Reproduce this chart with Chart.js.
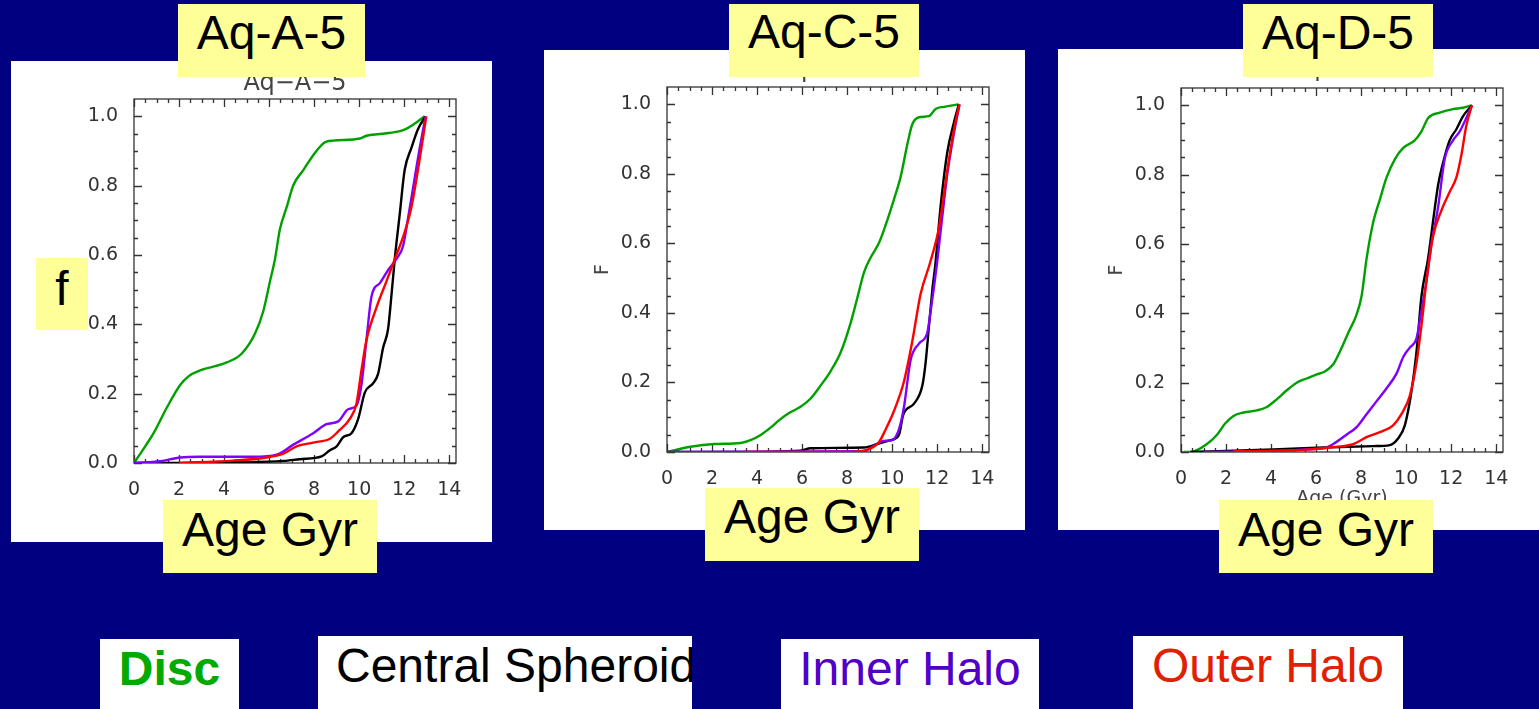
<!DOCTYPE html>
<html>
<head>
<meta charset="utf-8">
<script src="https://cdn.jsdelivr.net/npm/chart.js@4.4.1/dist/chart.umd.min.js"></script>
<style>
  html, body { margin: 0; padding: 0; background: #000080; }
  #stage { position: relative; width: 1539px; height: 709px; overflow: hidden; background: #000080; }
  canvas.panel { position: absolute; background: #ffffff; }
  .tag { position: absolute; background: #ffff99; color: #000; font-family: "Liberation Sans", Arial, sans-serif;
         font-size: 48px; line-height: 48px; text-align: center; box-sizing: border-box; white-space: nowrap; }
  .key { position: absolute; background: #ffffff; font-family: "Liberation Sans", Arial, sans-serif;
         font-size: 48px; line-height: 48px; text-align: center; box-sizing: border-box; white-space: nowrap; overflow: hidden; }
</style>
</head>
<body>
<div id="stage">
  <canvas id="chA" class="panel" width="481" height="481" style="left:11px;top:61px"></canvas>
  <canvas id="chC" class="panel" width="481" height="480" style="left:544px;top:50px"></canvas>
  <canvas id="chD" class="panel" width="481" height="481" style="left:1058px;top:49px"></canvas>

  <div class="tag" style="left:178px;top:4px;width:187px;height:73px;padding-top:5px">Aq-A-5</div>
  <div class="tag" style="left:729px;top:4px;width:190px;height:73px;padding-top:4px">Aq-C-5</div>
  <div class="tag" style="left:1243px;top:4px;width:190px;height:73px;padding-top:5px">Aq-D-5</div>

  <div class="tag" style="left:36px;top:258px;width:52px;height:72px;padding-top:7px">f</div>

  <div class="tag" style="left:163px;top:500px;width:214px;height:73px;padding-top:6px">Age Gyr</div>
  <div class="tag" style="left:705px;top:488px;width:214px;height:73px;padding-top:5px">Age Gyr</div>
  <div class="tag" style="left:1219px;top:500px;width:214px;height:73px;padding-top:6px">Age Gyr</div>

  <div class="key" style="left:100px;top:639px;width:139px;height:70px;padding-top:6px;color:#00aa00;font-weight:bold">Disc</div>
  <div class="key" style="left:318px;top:636px;width:374px;height:73px;padding-top:6px;padding-left:18px;text-align:left;color:#000">Central Spheroid</div>
  <div class="key" style="left:781px;top:639px;width:258px;height:70px;padding-top:6px;color:#5000c8">Inner Halo</div>
  <div class="key" style="left:1133px;top:636px;width:270px;height:73px;padding-top:6px;color:#e02000">Outer Halo</div>
</div>

<script>
// cumulative fraction f of stars formed vs. age (Gyr)
var aqA_disc  = [[0,0],[0.87,0.086],[1.46,0.16],[2.05,0.225],[2.42,0.25],[2.94,0.267],[3.53,0.278],[4.12,0.29],[4.79,0.316],[5.38,0.374],[5.75,0.44],[6.04,0.524],[6.26,0.588],[6.48,0.674],[6.78,0.738],[7.08,0.802],[7.52,0.845],[7.96,0.888],[8.48,0.925],[8.85,0.93],[10.03,0.936],[10.32,0.944],[10.92,0.949],[11.95,0.96],[12.47,0.979],[12.91,1.0]];
var aqA_cs    = [[0,0],[1.46,0],[4.4,0.002],[6.63,0.006],[7.37,0.011],[8.33,0.019],[8.7,0.037],[9.0,0.048],[9.3,0.075],[9.66,0.086],[9.96,0.128],[10.25,0.203],[10.62,0.23],[10.84,0.257],[11.06,0.332],[11.28,0.385],[11.43,0.481],[11.58,0.588],[11.8,0.717],[12.02,0.845],[12.32,0.909],[12.61,0.963],[12.95,1.0]];
var aqA_inner = [[0,0],[1.17,0.005],[2.05,0.016],[2.94,0.018],[5.3,0.018],[6.34,0.024],[7.08,0.053],[7.96,0.086],[8.55,0.112],[9.07,0.12],[9.51,0.155],[9.88,0.166],[10.1,0.225],[10.32,0.353],[10.55,0.481],[10.92,0.519],[11.28,0.556],[11.65,0.588],[11.95,0.626],[12.17,0.706],[12.47,0.824],[12.69,0.909],[12.95,1.0]];
var aqA_outer = [[2.0,0],[4.4,0.007],[5.9,0.016],[6.63,0.027],[7.22,0.048],[7.96,0.059],[8.7,0.07],[9.07,0.091],[9.59,0.128],[9.88,0.171],[10.1,0.267],[10.32,0.353],[10.77,0.449],[11.21,0.524],[11.58,0.588],[11.95,0.652],[12.32,0.738],[12.61,0.845],[12.98,1.0]];

var aqC_disc  = [[0,0],[1.04,0.015],[2.09,0.023],[3.27,0.026],[3.71,0.034],[4.16,0.049],[4.6,0.07],[4.97,0.091],[5.42,0.112],[5.93,0.13],[6.38,0.154],[6.82,0.191],[7.27,0.233],[7.71,0.286],[8.15,0.37],[8.45,0.443],[8.75,0.517],[9.04,0.559],[9.41,0.601],[9.71,0.653],[10.08,0.727],[10.37,0.79],[10.67,0.884],[10.89,0.942],[11.19,0.963],[11.63,0.966],[11.93,0.987],[12.3,0.993],[12.96,1.0]];
var aqC_cs    = [[0,0],[2.8,0],[5.93,0.004],[6.38,0.011],[8.75,0.013],[9.34,0.023],[9.93,0.034],[10.3,0.049],[10.49,0.107],[10.97,0.139],[11.34,0.191],[11.48,0.254],[11.63,0.359],[11.78,0.464],[11.93,0.548],[12.15,0.706],[12.45,0.863],[12.74,0.947],[12.96,1.0]];
var aqC_inner = [[0,0],[8.75,0.002],[9.19,0.018],[9.63,0.032],[10.0,0.034],[10.3,0.065],[10.52,0.128],[10.82,0.265],[11.19,0.312],[11.56,0.343],[11.7,0.401],[12.0,0.548],[12.22,0.674],[12.45,0.8],[12.74,0.916],[12.99,1.0]];
var aqC_outer = [[3.4,0],[8.0,0],[8.9,0.007],[9.41,0.028],[9.71,0.065],[10.08,0.118],[10.52,0.202],[10.89,0.317],[11.26,0.454],[11.7,0.548],[12.07,0.643],[12.45,0.811],[12.74,0.926],[12.99,1.0]];

var aqD_disc  = [[0.12,0],[0.56,0.002],[1.15,0.023],[1.6,0.05],[1.96,0.082],[2.33,0.104],[2.78,0.114],[3.37,0.12],[3.81,0.13],[4.25,0.152],[4.7,0.178],[5.14,0.2],[5.58,0.212],[6.03,0.224],[6.39,0.232],[6.76,0.253],[7.06,0.29],[7.43,0.344],[7.8,0.397],[8.02,0.45],[8.24,0.557],[8.54,0.664],[8.83,0.728],[9.13,0.792],[9.5,0.845],[9.87,0.877],[10.38,0.899],[10.68,0.925],[10.97,0.963],[11.49,0.979],[12.08,0.989],[12.52,0.993],[12.92,1.0]];
var aqD_cs    = [[0.41,0],[4.1,0.007],[6.32,0.013],[8.54,0.017],[9.27,0.02],[9.64,0.039],[9.94,0.077],[10.23,0.173],[10.46,0.29],[10.68,0.45],[10.97,0.557],[11.19,0.664],[11.42,0.771],[11.64,0.835],[11.93,0.899],[12.23,0.931],[12.52,0.968],[12.92,1.0]];
var aqD_inner = [[1.0,0],[6.32,0.011],[6.76,0.023],[7.35,0.05],[7.8,0.072],[8.24,0.109],[8.68,0.146],[9.13,0.184],[9.57,0.226],[9.87,0.274],[10.16,0.301],[10.46,0.328],[10.68,0.408],[10.9,0.493],[11.12,0.6],[11.42,0.707],[11.71,0.845],[12.08,0.899],[12.38,0.925],[12.92,1.0]];
var aqD_outer = [[2.33,0.002],[5.58,0.007],[6.62,0.013],[7.65,0.023],[8.31,0.045],[8.98,0.061],[9.42,0.077],[9.79,0.109],[10.16,0.162],[10.46,0.258],[10.68,0.365],[10.9,0.493],[11.19,0.621],[11.56,0.696],[11.93,0.75],[12.23,0.792],[12.45,0.856],[12.67,0.941],[12.92,1.0]];

var componentNames = ['Disc', 'Central Spheroid', 'Inner Halo', 'Outer Halo'];
var componentColors = ['#00a000', '#000000', '#8000ff', '#ff0000'];

var xTickLabels = [0, 2, 4, 6, 8, 10, 12, 14];
var yTickLabels = ['0.0', '0.2', '0.4', '0.6', '0.8', '1.0'];
var X_MAX = 14.3, Y_MAX = 1.05;

var idlFont = '"DejaVu Sans", "Liberation Sans", sans-serif';

// IDL-style box: frame plus inward ticks on all four sides
var idlFrame = {
  id: 'idlFrame',
  beforeDatasetsDraw: function (chart) {
    var ctx = chart.ctx, a = chart.chartArea;
    var xs = chart.scales.x, ys = chart.scales.y;
    ctx.save();
    ctx.strokeStyle = '#333';
    ctx.lineWidth = 1.3;
    ctx.strokeRect(a.left, a.top, a.right - a.left, a.bottom - a.top);
    ctx.beginPath();
    for (var i = 0; i * 0.5 <= 14; i++) {
      var px = Math.round(xs.getPixelForValue(i * 0.5)) + 0.5;
      var len = (i % 4 === 0) ? 8 : 4;
      ctx.moveTo(px, a.bottom); ctx.lineTo(px, a.bottom - len);
      ctx.moveTo(px, a.top); ctx.lineTo(px, a.top + len);
    }
    for (var j = 0; j * 0.05 <= 1.0001; j++) {
      var py = Math.round(ys.getPixelForValue(j * 0.05)) + 0.5;
      var ylen = (j % 4 === 0) ? 8 : 4;
      ctx.moveTo(a.left, py); ctx.lineTo(a.left + ylen, py);
      ctx.moveTo(a.right, py); ctx.lineTo(a.right - ylen, py);
    }
    ctx.stroke();
    ctx.restore();
  }
};

function toPoints(arr) {
  return arr.map(function (p) { return { x: p[0], y: p[1] }; });
}

function makePanel(id, title, series, geom) {
  var datasets = series.map(function (s, k) {
    return {
      label: componentNames[k],
      data: toPoints(s),
      borderColor: componentColors[k],
      borderWidth: 2.4,
      pointRadius: 0,
      showLine: true,
      fill: false,
      cubicInterpolationMode: 'monotone',
      order: 3 - k
    };
  });
  return new Chart(document.getElementById(id).getContext('2d'), {
    type: 'scatter',
    data: { datasets: datasets },
    options: {
      responsive: false,
      animation: false,
      events: [],
      layout: { padding: { left: 0, right: 36, top: 0, bottom: 0 } },
      plugins: {
        legend: { display: false },
        tooltip: { enabled: false },
        title: {
          display: true, text: title, fullSize: false, color: '#444',
          font: { family: idlFont, size: 24, weight: 'normal' },
          padding: { top: geom.titleTop, bottom: geom.titleBottom }
        }
      },
      scales: {
        x: {
          type: 'linear', min: 0, max: X_MAX,
          grid: { display: false }, border: { display: false },
          afterBuildTicks: function (sc) { sc.ticks = xTickLabels.map(function (v) { return { value: v }; }); },
          ticks: { color: '#333', padding: 8, font: { family: idlFont, size: 19 },
                   callback: function (v) { return String(v); } },
          title: { display: true, text: 'Age (Gyr)', color: '#444', font: { family: idlFont, size: 19 }, padding: { top: 0, bottom: 20 } },
          afterFit: function (sc) { sc.height = geom.bottom; }
        },
        y: {
          type: 'linear', min: 0, max: Y_MAX,
          grid: { display: false }, border: { display: false },
          afterBuildTicks: function (sc) { sc.ticks = yTickLabels.map(function (v) { return { value: parseFloat(v) }; }); },
          ticks: { color: '#333', padding: 8, font: { family: idlFont, size: 19 },
                   callback: function (v) { return v.toFixed(1); } },
          title: { display: true, text: 'F', color: '#444', font: { family: idlFont, size: 19 }, padding: { top: 48, bottom: 0 } },
          afterFit: function (sc) { sc.width = 123; }
        }
      }
    },
    plugins: [idlFrame]
  });
}

makePanel('chA', 'Aq\u2212A\u22125', [aqA_disc, aqA_cs, aqA_inner, aqA_outer], { titleTop: 8.4, titleBottom: 0.8, bottom: 79 });
makePanel('chC', 'Aq\u2212C\u22125', [aqC_disc, aqC_cs, aqC_inner, aqC_outer], { titleTop: 6, titleBottom: 2.2, bottom: 78 });
makePanel('chD', 'Aq\u2212D\u22125', [aqD_disc, aqD_cs, aqD_inner, aqD_outer], { titleTop: 6.5, titleBottom: 3.7, bottom: 78 });
</script>
</body>
</html>
